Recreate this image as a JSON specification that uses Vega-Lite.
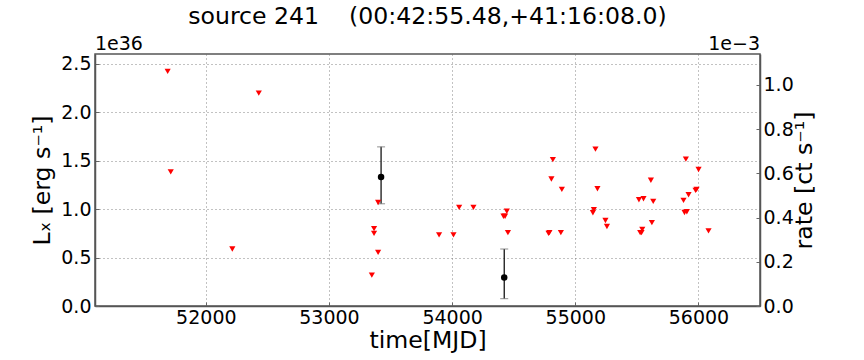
{
  "$schema": "https://vega.github.io/schema/vega-lite/v6.json",
  "width": 665,
  "height": 252,
  "autosize": {"type": "none"},
  "padding": {"left": 95, "top": 54, "right": 104, "bottom": 54},
  "background": "white",
  "config": {
    "font": "DejaVu Sans",
    "view": {"stroke": "#555", "strokeWidth": 1.5},
    "axis": {
      "labelFont": "DejaVu Sans", "titleFont": "DejaVu Sans",
      "labelFontSize": 19, "titleFontSize": 23.6, "titleFontWeight": "normal",
      "labelColor": "black", "titleColor": "black",
      "domainColor": "#555", "domainWidth": 1.5,
      "tickColor": "#666", "tickSize": -4, "tickWidth": 1,
      "gridColor": "#666", "gridDash": [1, 3], "gridWidth": 1, "gridOpacity": 0.8
    }
  },
  "title": {
    "text": "source 241\u00a0\u00a0\u00a0 (00:42:55.48,+41:16:08.0)",
    "fontSize": 23.6, "fontWeight": "normal", "font": "DejaVu Sans",
    "color": "black", "anchor": "middle", "offset": 6
  },
  "datasets": {
    "limits": [
      {"t": 51690, "L": 2.42}, {"t": 52430, "L": 2.196}, {"t": 51715, "L": 1.383},
      {"t": 52215, "L": 0.588}, {"t": 53399, "L": 1.068}, {"t": 53366, "L": 0.799},
      {"t": 53366, "L": 0.75}, {"t": 53399, "L": 0.553}, {"t": 53348, "L": 0.318},
      {"t": 53894, "L": 0.733}, {"t": 54011, "L": 0.733}, {"t": 54057, "L": 1.017},
      {"t": 54173, "L": 1.017}, {"t": 54417, "L": 0.926}, {"t": 54430, "L": 0.926},
      {"t": 54444, "L": 0.978}, {"t": 54453, "L": 0.757}, {"t": 54783, "L": 0.75},
      {"t": 54790, "L": 0.757}, {"t": 54806, "L": 1.31}, {"t": 54818, "L": 1.511},
      {"t": 54883, "L": 0.757}, {"t": 54891, "L": 1.203}, {"t": 55164, "L": 1.618},
      {"t": 55180, "L": 1.21}, {"t": 55143, "L": 0.962}, {"t": 55151, "L": 0.993},
      {"t": 55245, "L": 0.882}, {"t": 55257, "L": 0.82}, {"t": 55517, "L": 1.096},
      {"t": 55554, "L": 1.107}, {"t": 55527, "L": 0.757}, {"t": 55538, "L": 0.757},
      {"t": 55544, "L": 0.791}, {"t": 55614, "L": 1.297}, {"t": 55633, "L": 1.079},
      {"t": 55622, "L": 0.861}, {"t": 55879, "L": 1.089}, {"t": 55887, "L": 0.965},
      {"t": 55906, "L": 0.972}, {"t": 55920, "L": 1.148}, {"t": 55898, "L": 1.515},
      {"t": 55977, "L": 1.193}, {"t": 55985, "L": 1.203}, {"t": 56001, "L": 1.408},
      {"t": 56082, "L": 0.775}
    ],
    "detections": [
      {"t": 53423, "L": 1.331, "lo": 1.055, "hi": 1.642},
      {"t": 54423, "L": 0.294, "lo": 0.076, "hi": 0.588}
    ],
    "rateaxis": [{"rate": 0}, {"rate": 1.14}]
  },
  "layer": [
    {
      "layer": [
        {
          "data": {"name": "detections"},
          "mark": {"type": "rule", "color": "black", "strokeWidth": 1.2},
          "encoding": {
            "x": {"field": "t", "type": "quantitative",
                  "scale": {"domain": [51100, 56500], "nice": false, "zero": false},
                  "axis": {"title": "time[MJD]", "values": [52000, 53000, 54000, 55000, 56000],
                           "format": "d", "labelPadding": 6, "titlePadding": 1, "grid": true}},
            "y": {"field": "lo", "type": "quantitative",
                  "scale": {"domain": [0, 2.6], "nice": false},
                  "axis": {"title": "Lₓ [erg s⁻¹]", "values": [0, 0.5, 1.0, 1.5, 2.0, 2.5],
                           "format": ".1f", "labelPadding": 8, "titlePadding": 6, "grid": true}},
            "y2": {"field": "hi"}
          }
        },
        {
          "data": {"name": "detections"},
          "mark": {"type": "tick", "color": "#777", "orient": "horizontal", "size": 8, "thickness": 1.2},
          "encoding": {
            "x": {"field": "t", "type": "quantitative"},
            "y": {"field": "lo", "type": "quantitative"}
          }
        },
        {
          "data": {"name": "detections"},
          "mark": {"type": "tick", "color": "#777", "orient": "horizontal", "size": 8, "thickness": 1.2},
          "encoding": {
            "x": {"field": "t", "type": "quantitative"},
            "y": {"field": "hi", "type": "quantitative"}
          }
        },
        {
          "data": {"name": "limits"},
          "mark": {"type": "point", "shape": "triangle-down", "filled": true, "color": "#ff0000", "size": 38, "opacity": 1},
          "encoding": {
            "x": {"field": "t", "type": "quantitative"},
            "y": {"field": "L", "type": "quantitative"}
          }
        },
        {
          "data": {"name": "detections"},
          "mark": {"type": "point", "shape": "circle", "filled": true, "color": "black", "size": 42, "opacity": 1},
          "encoding": {
            "x": {"field": "t", "type": "quantitative"},
            "y": {"field": "L", "type": "quantitative"}
          }
        },
        {
          "data": {"values": [{"lab": "1e36", "t": 51100, "L": 2.6}]},
          "mark": {"type": "text", "align": "left", "baseline": "alphabetic", "dy": -4, "fontSize": 19, "color": "black"},
          "encoding": {
            "x": {"field": "t", "type": "quantitative"},
            "y": {"field": "L", "type": "quantitative"},
            "text": {"field": "lab"}
          }
        },
        {
          "data": {"values": [{"lab": "1e−3", "t": 56500, "L": 2.6}]},
          "mark": {"type": "text", "align": "right", "baseline": "alphabetic", "dy": -4, "fontSize": 19, "color": "black"},
          "encoding": {
            "x": {"field": "t", "type": "quantitative"},
            "y": {"field": "L", "type": "quantitative"},
            "text": {"field": "lab"}
          }
        }
      ]
    },
    {
      "data": {"name": "rateaxis"},
      "mark": {"type": "point", "opacity": 0},
      "encoding": {
        "y": {"field": "rate", "type": "quantitative",
              "scale": {"domain": [0, 1.14], "nice": false},
              "axis": {"orient": "right", "title": "rate [ct s⁻¹]", "titleAngle": 270, "titleBaseline": "top",
                       "values": [0, 0.2, 0.4, 0.6, 0.8, 1.0], "format": ".1f",
                       "labelPadding": 7, "titlePadding": -1, "grid": false}}
      }
    }
  ],
  "resolve": {"scale": {"y": "independent"}, "axis": {"y": "independent"}}
}
